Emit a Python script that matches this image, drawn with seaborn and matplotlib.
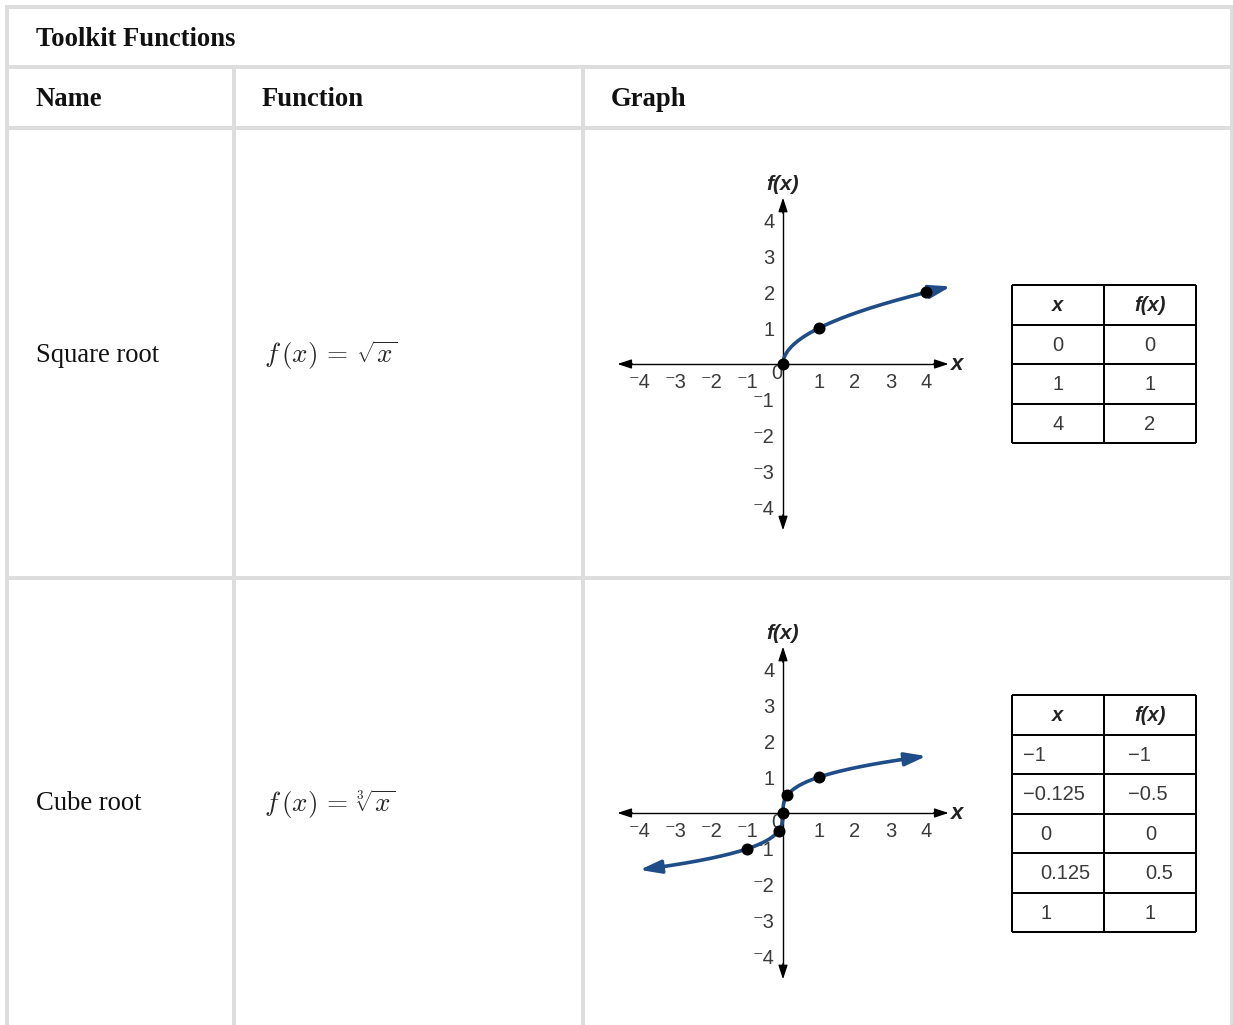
import numpy as np
import matplotlib
matplotlib.use("Agg")
import matplotlib.pyplot as plt
import seaborn as sns

# ---- content -------------------------------------------------------------
title = "Toolkit Functions"
col_headers = ["Name", "Function", "Graph"]
row_names = ["Square root", "Cube root"]
row_formulas = [r"$f\,(x)\,=\,\sqrt{x}$", r"$f\,(x)\,=\,\sqrt[3]{x}$"]

sqrt_x = [0, 1, 4]
sqrt_y = [0, 1, 2]
sqrt_x_text = ["0", "1", "4"]
sqrt_y_text = ["0", "1", "2"]

cbrt_x = [-1, -0.125, 0, 0.125, 1]
cbrt_y = [-1, -0.5, 0, 0.5, 1]
cbrt_x_text = ["\u22121", "\u22120.125", "0", "0.125", "1"]
cbrt_y_text = ["\u22121", "\u22120.5", "0", "0.5", "1"]

tick_values = [-4, -3, -2, -1, 1, 2, 3, 4]
tick_text = ["\u207b4", "\u207b3", "\u207b2", "\u207b1", "1", "2", "3", "4"]

# ---- style ---------------------------------------------------------------
sns.set_theme(style="white")
plt.rcParams["font.family"] = ["Liberation Sans", "DejaVu Sans"]
plt.rcParams["mathtext.fontset"] = "cm"

W, H = 1233, 1025
GRID = "#dddddd"
BLUE = "#1f4d87"
INK = "#3a3a3a"
SERIF = ["Liberation Serif", "DejaVu Serif"]
SANS = ["Liberation Sans", "DejaVu Sans"]
PX = 72 / 100  # points per pixel

fig = plt.figure(figsize=(W / 100, H / 100), dpi=100)
fig.patch.set_facecolor("white")

bg = fig.add_axes([0, 0, 1, 1])
bg.set_xlim(0, W)
bg.set_ylim(H, 0)
bg.axis("off")

# ---- outer table frame -----------------------------------------------------
glw = 4 * PX
bg.vlines([7, 1231.5], 5, H + 5, color=GRID, lw=glw)
bg.vlines([234, 583], 67, H + 5, color=GRID, lw=glw)
bg.hlines([6.7, 67, 128, 578], 5, 1233.5, color=GRID, lw=glw)

serif_size = 26.6 * PX
bg.text(36, 39, title, family=SERIF, fontweight="bold", fontsize=serif_size,
        va="center", ha="left", color="#111111")
for x0, h in zip([36, 262, 611], col_headers):
    bg.text(x0, 99, h, family=SERIF, fontweight="bold", fontsize=serif_size,
            va="center", ha="left", color="#111111")
for yc, name, formula in zip([355, 804], row_names, row_formulas):
    bg.text(36, yc, name, family=SERIF, fontsize=serif_size, va="center",
            ha="left", color="#111111")
    bg.text(264, yc, formula, fontsize=19.5, va="center", ha="left")

# ---- coordinate graphs -----------------------------------------------------
UNIT = 35.85
XL, XR = -5.0, 5.5
YB, YT = -5.2, 5.6


def make_graph(ox, oy):
    left = (ox + XL * UNIT) / W
    width = (XR - XL) * UNIT / W
    bottom = 1 - (oy - YB * UNIT) / H
    height = (YT - YB) * UNIT / H
    ax = fig.add_axes([left, bottom, width, height])
    ax.set_xlim(XL, XR)
    ax.set_ylim(YB, YT)
    ax.patch.set_alpha(0)
    for s in ["top", "right"]:
        ax.spines[s].set_visible(False)
    for s in ["left", "bottom"]:
        ax.spines[s].set_position(("data", 0))
        ax.spines[s].set_color("black")
        ax.spines[s].set_linewidth(1.0)
    ax.spines["bottom"].set_bounds(-4.4, 4.4)
    ax.spines["left"].set_bounds(-4.4, 4.4)
    ax.set_xticks(tick_values)
    ax.set_xticklabels(tick_text)
    ax.set_yticks(tick_values)
    ax.set_yticklabels(tick_text)
    ax.tick_params(axis="both", direction="inout", length=9, width=0.9,
                   color="#222222", labelsize=14.5, labelcolor=INK)
    ax.tick_params(axis="x", pad=2)
    ax.tick_params(axis="y", pad=1.5)
    ax.grid(False)
    head = dict(arrowstyle="-|>,head_length=0.85,head_width=0.28", color="black",
                lw=1.0, shrinkA=0, shrinkB=0, mutation_scale=10)
    for tip, base in [((4.62, 0), (4.2, 0)), ((-4.62, 0), (-4.2, 0)),
                      ((0, 4.64), (0, 4.2)), ((0, -4.64), (0, -4.2))]:
        ax.annotate("", xy=tip, xytext=base, arrowprops=head)
    ax.text(0, 5.02, "f(x)", fontsize=15, fontweight="bold", fontstyle="italic",
            ha="center", va="center", color="#222222")
    ax.text(4.85, 0.0, "x", fontsize=16, fontweight="bold", fontstyle="italic",
            ha="center", va="center", color="#222222")
    ax.text(-0.17, -0.27, "0", fontsize=14.5, ha="center", va="center",
            color=INK)
    return ax


def curve_arrow(ax, p_from, p_to):
    ax.annotate("", xy=p_to, xytext=p_from,
                arrowprops=dict(arrowstyle="-|>,head_length=0.65,head_width=0.2",
                                color=BLUE, lw=2.4, shrinkA=0, shrinkB=0,
                                mutation_scale=20), zorder=4)


# square root graph
ax1 = make_graph(783, 364)
xs = np.linspace(0, 4.3, 300)
sns.lineplot(x=xs, y=np.sqrt(xs), ax=ax1, color=BLUE, lw=2.6, sort=False,
             estimator=None, zorder=4)
curve_arrow(ax1, (4.25, np.sqrt(4.25)), (4.68, np.sqrt(4.68)))
sns.scatterplot(x=sqrt_x, y=sqrt_y, ax=ax1, color="black", s=75,
                edgecolor="black", linewidth=0, zorder=6)

# cube root graph
ax2 = make_graph(783, 813)
xs2 = np.linspace(-3.6, 3.6, 600)
sns.lineplot(x=xs2, y=np.cbrt(xs2), ax=ax2, color=BLUE, lw=2.6, sort=False,
             estimator=None, zorder=4)
curve_arrow(ax2, (3.55, np.cbrt(3.55)), (4.0, np.cbrt(4.0)))
curve_arrow(ax2, (-3.55, np.cbrt(-3.55)), (-4.0, np.cbrt(-4.0)))
sns.scatterplot(x=cbrt_x, y=cbrt_y, ax=ax2, color="black", s=75,
                edgecolor="black", linewidth=0, zorder=6)

# ---- value tables -----------------------------------------------------------
TL, TM, TR = 1012, 1104, 1196
ROW = 39.5
tlw = 2 * PX
val_size = 14.5


def value_table(top, xs_text, ys_text, centered):
    n = len(xs_text) + 1
    ys = [top + i * ROW for i in range(n + 1)]
    bg.hlines(ys, TL, TR, color="black", lw=tlw)
    bg.vlines([TL, TM, TR], top, ys[-1], color="black", lw=tlw)
    hc = top + ROW / 2 + 1
    bg.text((TL + TM) / 2, hc, "x", family=SANS, fontweight="bold",
            fontstyle="italic", fontsize=val_size, ha="center", va="center",
            color="#222222")
    bg.text((TM + TR) / 2, hc, "f(x)", family=SANS, fontweight="bold",
            fontstyle="italic", fontsize=val_size, ha="center", va="center",
            color="#222222")
    for i, (a, b) in enumerate(zip(xs_text, ys_text)):
        yc = top + (i + 1.5) * ROW + 1
        if centered:
            bg.text((TL + TM) / 2, yc, a, family=SANS, fontsize=val_size,
                    ha="center", va="center", color=INK)
            bg.text((TM + TR) / 2, yc, b, family=SANS, fontsize=val_size,
                    ha="center", va="center", color=INK)
        else:
            xa = TL + (11 if a.startswith("\u2212") else 28)
            xb = TM + (24 if b.startswith("\u2212") else 41)
            bg.text(xa, yc, a, family=SANS, fontsize=val_size,
                    ha="left", va="center", color=INK)
            bg.text(xb, yc, b, family=SANS, fontsize=val_size,
                    ha="left", va="center", color=INK)


value_table(285, sqrt_x_text, sqrt_y_text, centered=True)
value_table(695, cbrt_x_text, cbrt_y_text, centered=False)

fig.savefig("out.png", dpi=100)
